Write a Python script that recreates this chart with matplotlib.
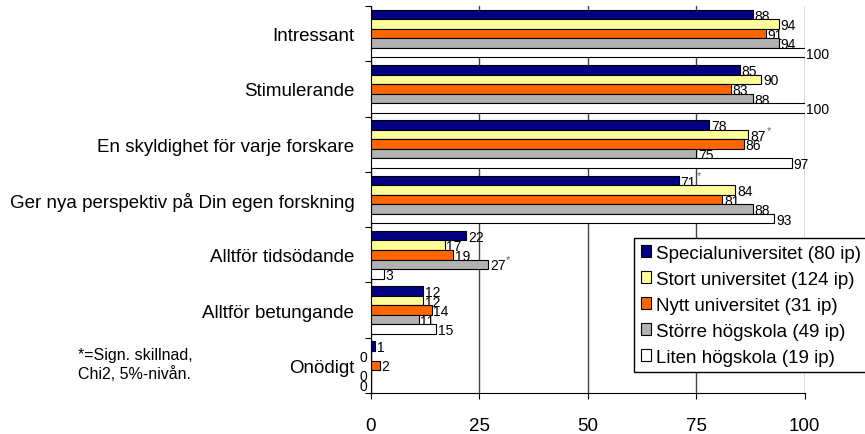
import matplotlib.pyplot as plt
import numpy as np

categories = ['Intressant', 'Stimulerande', 'En skyldighet för varje forskare',
              'Ger nya perspektiv på Din egen forskning', 'Alltför tidsödande',
              'Alltför betungande', 'Onödigt']
groups = ['Specialuniversitet (80 ip)', 'Stort universitet (124 ip)',
          'Nytt universitet (31 ip)', 'Större högskola (49 ip)', 'Liten högskola (19 ip)']
values = [
    [88, 85, 78, 71, 22, 12, 1],
    [94, 90, 87, 84, 17, 12, 0],
    [91, 83, 86, 81, 19, 14, 2],
    [94, 88, 75, 88, 27, 11, 0],
    [100, 100, 97, 93, 3, 15, 0],
]
# significant differences marked with *
stars = [(2, 1), (3, 0), (4, 3)]  # (category, group)
colors = ['#000080', '#FFFF99', '#FF6600', '#B2B2B2', '#FFFFFF']

plt.rcParams['font.family'] = ['Liberation Sans', 'DejaVu Sans']

fig = plt.figure(figsize=(8.65, 4.35), dpi=100)
ax = fig.add_axes([0.4289, 0.0943, 0.5012, 0.8897])

y = np.arange(len(categories))
h = 0.1725
for i, g in enumerate(groups):
    pos = y + (i - 2) * h
    ax.barh(pos, values[i], height=h, color=colors[i], edgecolor='black',
            linewidth=0.8, label=g, zorder=3)
    for c, v in enumerate(values[i]):
        if v == 0:
            ax.text(-0.8, pos[c] + 0.02, str(v), ha='right', va='center', fontsize=10)
        else:
            ax.text(v + 0.4, pos[c] + 0.02, str(v), ha='left', va='center', fontsize=10)
        if (c, i) in stars:
            ax.text(v + 0.4 + 3.8, pos[c] - 0.09, '*', ha='left', va='center',
                    fontsize=8, color='#666666')

ax.set_xlim(0, 100)
ax.set_ylim(len(categories) - 0.5, -0.5)
ax.set_xticks([0, 25, 50, 75, 100])
ax.set_yticks(y)
ax.set_yticklabels(categories)
ax.set_yticks(np.arange(-0.5, len(categories)), minor=True)
ax.tick_params(axis='y', which='major', length=0, pad=12, labelsize=13.5)
ax.tick_params(axis='y', which='minor', length=4, direction='out', width=0.8)
ax.tick_params(axis='x', length=4, direction='out', pad=13, labelsize=13.5, width=0.8)
ax.grid(axis='x', color='#444444', linewidth=1, zorder=0)
ax.spines['top'].set_visible(False)
ax.spines['right'].set_visible(False)

# legend runs off the right edge like in the original
fig.legend(loc='upper left', bbox_to_anchor=(634 / 865, 1 - 239 / 435), fontsize=13.5,
           frameon=True, fancybox=False, edgecolor='black', framealpha=1,
           handlelength=0.55, handleheight=0.55, handletextpad=0.3, labelspacing=0.48,
           borderpad=0.35, borderaxespad=0)

fig.text(78 / 865, 1 - 365 / 435, '*=Sign. skillnad,\nChi2, 5%-nivån.', fontsize=11.5,
         ha='left', va='center', linespacing=1.25)

fig.savefig('out.png', dpi=100)
